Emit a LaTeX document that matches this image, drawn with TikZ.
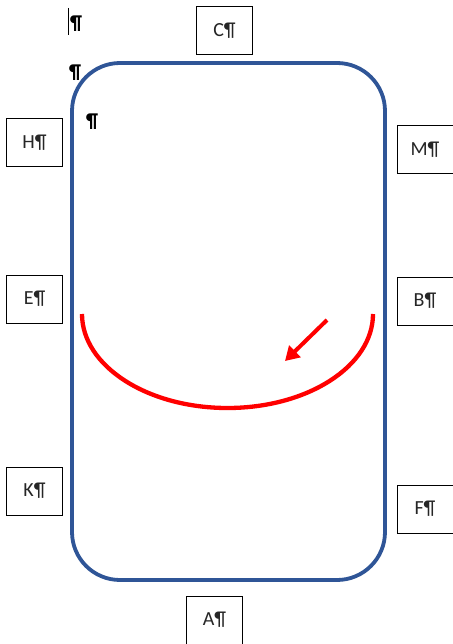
\documentclass[tikz,border=0pt]{standalone}
\usepackage{fontspec}
\setmainfont{Carlito}
\usetikzlibrary{arrows.meta}
\definecolor{frameblue}{HTML}{2F5597}
\definecolor{txtgray}{HTML}{262626}
\tikzset{
  lbl/.style={draw=black, line width=1pt, minimum width=56pt, minimum height=48pt, inner sep=0pt, font=\fontsize{20}{20}\selectfont, text=txtgray},
  pil/.style={inner sep=0pt, font=\fontsize{20}{20}\selectfont\bfseries}
}
\begin{document}
\begin{tikzpicture}[x=1pt,y=-1pt]
\useasboundingbox (0,0) rectangle (452,644);
\fill[white] (0,0) rectangle (452,644);
% main rounded frame
\draw[frameblue, line width=3.8pt, rounded corners=48pt] (72,63) rectangle (385,580);
% labelled boxes
\node[lbl] (C) at (224.5,31) {C¶};
\node[lbl] (H) at (34.5,143) {H¶};
\node[lbl] (E) at (34.5,299) {E¶};
\node[lbl] (K) at (34.5,491) {K¶};
\node[lbl] (M) at (425,150) {M¶};
\node[lbl] (B) at (425,301) {B¶};
\node[lbl] (F) at (425,509) {F¶};
\node[lbl] (A) at (214.5,620) {A¶};
% pilcrows
\node[pil] (p1) at (76,24) {¶};
\draw[line width=1pt] (68,8) -- (68,35);
\node[pil] (p2) at (75,73) {¶};
\node[pil] (p3) at (92,122) {¶};
% red arc
\draw[red, line width=4.3pt] (82,314) arc[start angle=180, end angle=0, x radius=145.5, y radius=94];
% red arrow
\coordinate (as) at (327,320);
\coordinate (ae) at (285,361);
\draw[red, line width=4pt, -{Triangle[length=14pt,width=16pt]}] (as) -- (ae);
\end{tikzpicture}
\end{document}
